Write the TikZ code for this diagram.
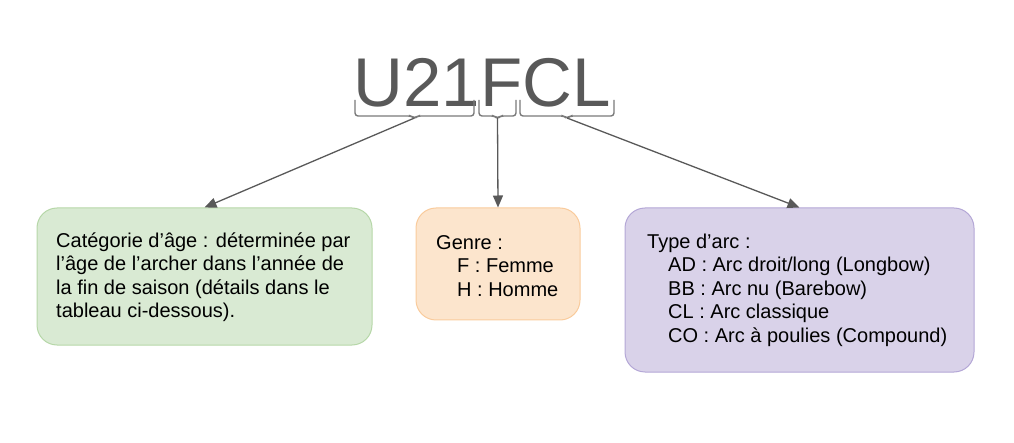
\documentclass[tikz,border=0pt]{standalone}
\usepackage{fontspec}
\setmainfont{Liberation Sans}
\usetikzlibrary{arrows.meta}
\definecolor{titlegray}{HTML}{595959}
\definecolor{linegray}{HTML}{595959}
\definecolor{bracegray}{HTML}{7A7A7A}
\definecolor{gfill}{HTML}{D9EAD3}
\definecolor{gdraw}{HTML}{B6D7A8}
\definecolor{ofill}{HTML}{FCE5CD}
\definecolor{odraw}{HTML}{F9CB9C}
\definecolor{pfill}{HTML}{D9D2E9}
\definecolor{pdraw}{HTML}{B4A7D6}
\tikzset{
  infobox/.style={rounded corners=20pt, line width=1pt, minimum width=#1},
  boxtext/.style={anchor=west, inner sep=0pt, align=left, font=\fontsize{20}{23.5}\selectfont, text=black},
  bracepath/.style={draw=bracegray, line width=1.4pt, rounded corners=3pt},
  conn/.style={draw=linegray, line width=1.3pt, -{Triangle[length=12pt,width=10pt]}}
}
\begin{document}
\begin{tikzpicture}[x=1pt,y=-1pt]
\useasboundingbox (0,0) rectangle (1014,443);
% title
\node[anchor=base, inner sep=0pt, text=titlegray, font=\fontsize{69}{80}\selectfont] (title) at (482,107) {U21FCL};
% braces
\coordinate (b1) at (414.5,118);
\coordinate (b2) at (497.5,118);
\coordinate (b3) at (567,118);
\draw[bracepath] (355,100) -- (355,116) -- (411.5,116) -- (414.5,118.5) -- (417.5,116) -- (474,116) -- (474,100);
\draw[bracepath] (479,100) -- (479,116) -- (494.5,116) -- (497.5,118.5) -- (500.5,116) -- (516,116) -- (516,100);
\draw[bracepath] (520,100) -- (520,116) -- (564,116) -- (567,118.5) -- (570,116) -- (614,116) -- (614,100);
% boxes
\node[infobox=335pt, minimum height=137pt, fill=gfill, draw=gdraw] (age) at (204.5,276.5) {};
\node[infobox=164pt, minimum height=112pt, fill=ofill, draw=odraw] (genre) at (498,264) {};
\node[infobox=349pt, minimum height=164pt, fill=pfill, draw=pdraw] (arc) at (799.5,290) {};
% texts
\node[boxtext] (agetext) at (56,277) {Catégorie d’âge : déterminée par\\l’âge de l’archer dans l’année de\\la fin de saison (détails dans le\\tableau ci-dessous).};
\node[boxtext] (genretext) at (436,266) {Genre :\\\hspace*{21pt}F : Femme\\\hspace*{21pt}H : Homme};
\node[boxtext] (arctext) at (647,290) {Type d’arc :\\\hspace*{21pt}AD : Arc droit/long (Longbow)\\\hspace*{21pt}BB : Arc nu (Barebow)\\\hspace*{21pt}CL : Arc classique\\\hspace*{21pt}CO : Arc à poulies (Compound)};
% connectors
\draw[conn] (b1) -- (age.north);
\draw[conn] (b2) -- (genre.north);
\draw[conn] (b3) -- (arc.north);
\end{tikzpicture}
\end{document}
